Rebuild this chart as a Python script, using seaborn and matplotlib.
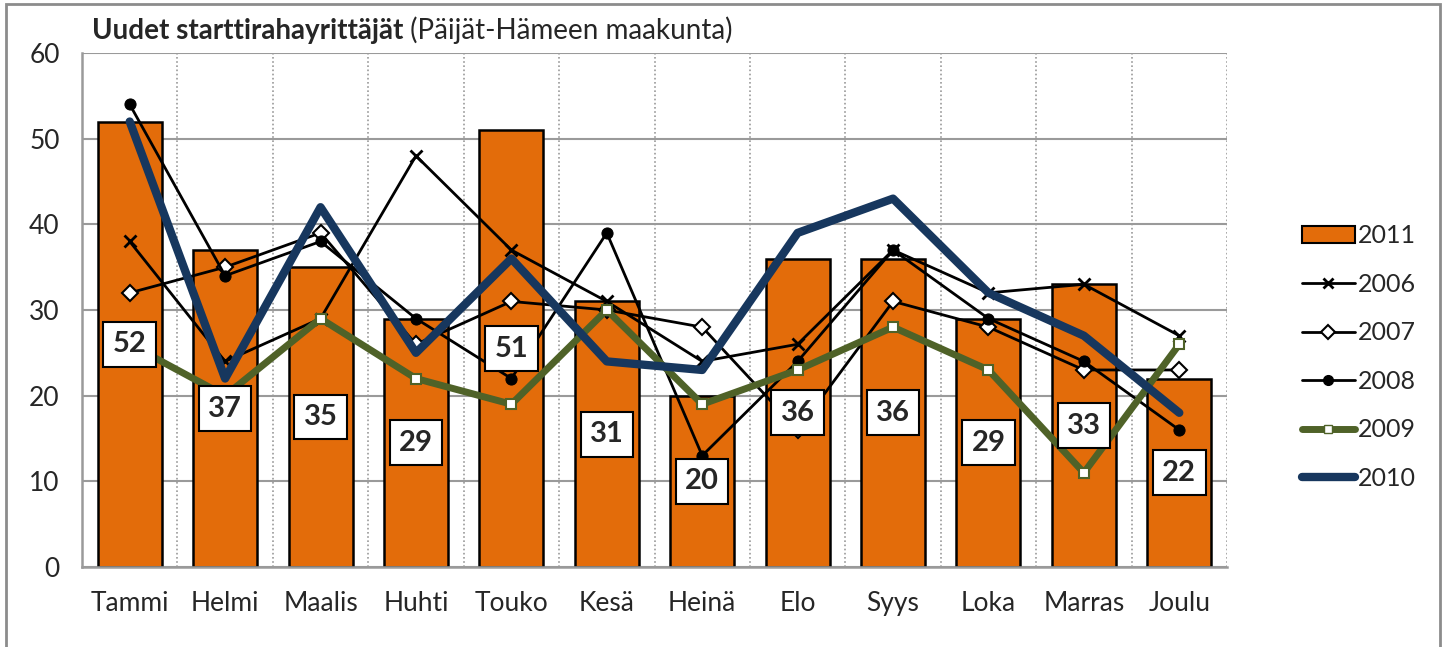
import numpy as np
import pandas as pd
import matplotlib
matplotlib.use("Agg")
import matplotlib.pyplot as plt
import seaborn as sns
from matplotlib.lines import Line2D
from matplotlib.patches import Patch, Rectangle

# Data
months = ["Tammi", "Helmi", "Maalis", "Huhti", "Touko", "Kesä",
          "Heinä", "Elo", "Syys", "Loka", "Marras", "Joulu"]
y2011 = [52, 37, 35, 29, 51, 31, 20, 36, 36, 29, 33, 22]
y2006 = [38, 24, 29, 48, 37, 31, 24, 26, 37, 32, 33, 27]
y2007 = [32, 35, 39, 26, 31, 30, 28, 16, 31, 28, 23, 23]
y2008 = [54, 34, 38, 29, 22, 39, 13, 24, 37, 29, 24, 16]
y2009 = [26, 20, 29, 22, 19, 30, 19, 23, 28, 23, 11, 26]
y2010 = [52, 22, 42, 25, 36, 24, 23, 39, 43, 32, 27, 18]

ORANGE = "#E36C0A"
GREEN = "#4F6228"
BLUE = "#17375E"
GRID = "#9A9A9A"

sns.set_style("white")
plt.rcParams["font.family"] = ["Lato", "DejaVu Sans"]

fig = plt.figure(figsize=(14.46, 6.47), dpi=100)
ax = fig.add_axes([82 / 1446, 1 - 567 / 647, 1145 / 1446, 514 / 647])

pos = np.arange(len(months))
df = pd.DataFrame({"pos": pos, "2011": y2011, "2006": y2006, "2007": y2007,
                   "2008": y2008, "2009": y2009, "2010": y2010})

# bars for 2011
sns.barplot(data=df, x="pos", y="2011", color=ORANGE, width=0.67,
            edgecolor="black", linewidth=1.8, saturation=1, ax=ax, zorder=2)

# line series
sns.lineplot(data=df, x="pos", y="2006", color="black", lw=2, marker="x",
             markersize=8, mew=2, mec="black", ax=ax, zorder=3)
sns.lineplot(data=df, x="pos", y="2007", color="black", lw=2, marker="D",
             markersize=8, mfc="white", mec="black", mew=1.5, ax=ax, zorder=3)
sns.lineplot(data=df, x="pos", y="2008", color="black", lw=2, marker="o",
             markersize=8, mfc="black", mec="black", ax=ax, zorder=3)
sns.lineplot(data=df, x="pos", y="2009", color=GREEN, lw=5, marker="s",
             markersize=7, mfc="white", mec=GREEN, mew=1.5, ax=ax, zorder=4)
sns.lineplot(data=df, x="pos", y="2010", color=BLUE, lw=6, ax=ax, zorder=5)

# value labels in the middle of the bars
for i, v in enumerate(y2011):
    ax.text(i, v / 2, str(v), ha="center", va="center", fontsize=21,
            fontweight="bold", zorder=10,
            bbox=dict(boxstyle="square,pad=0.32", fc="white", ec="black", lw=1.5))

ax.set_xlim(-0.5, len(months) - 0.5)
ax.set_ylim(0, 60)
ax.set_yticks(range(0, 61, 10))
ax.set_xticks(pos)
ax.set_xticklabels(months)
ax.set_xticks(np.arange(-0.5, len(months)), minor=True)
ax.set_xlabel("")
ax.set_ylabel("")

ax.grid(axis="y", color=GRID, lw=1.5, zorder=0)
ax.grid(axis="x", which="minor", color=GRID, lw=1.2, ls=(0, (1, 1.5)), zorder=0)
ax.grid(axis="x", which="major", visible=False)
ax.set_axisbelow(True)

for s in ["top", "right"]:
    ax.spines[s].set_visible(False)
for s in ["left", "bottom"]:
    ax.spines[s].set_color(GRID)
    ax.spines[s].set_linewidth(1.8)

ax.tick_params(axis="y", length=6, width=1.5, color=GRID, pad=10, labelsize=19)
ax.tick_params(axis="x", which="major", length=0, pad=17, labelsize=19)
ax.tick_params(axis="x", which="minor", length=6, width=1.5, color=GRID)

# legend
handles = [
    Patch(fc=ORANGE, ec="black", lw=1.5),
    Line2D([], [], color="black", lw=2, marker="x", markersize=7, mew=2),
    Line2D([], [], color="black", lw=2, marker="D", markersize=7, mfc="white", mew=1.5),
    Line2D([], [], color="black", lw=2, marker="o", markersize=7),
    Line2D([], [], color=GREEN, lw=5, marker="s", markersize=6, mfc="white", mec=GREEN),
    Line2D([], [], color=BLUE, lw=6),
]
labels = ["2011", "2006", "2007", "2008", "2009", "2010"]
fig.legend(handles, labels, loc="center left", bbox_to_anchor=(1292 / 1446, 1 - 357 / 647),
           frameon=False, fontsize=18, handlelength=2.1, handletextpad=0.15,
           labelspacing=1.02, borderaxespad=0)

# title: bold part followed by normal part
t1 = fig.text(92 / 1446, 1 - 39 / 647, "Uudet starttirahayrittäjät", fontsize=20,
              fontweight="bold", ha="left", va="baseline")
fig.canvas.draw()
bb = t1.get_window_extent(renderer=fig.canvas.get_renderer())
fig.text(bb.x1 / fig.bbox.width, 1 - 39 / 647, " (Päijät-Hämeen maakunta)",
         fontsize=20, ha="left", va="baseline")

# outer chart frame
fig.patches.append(Rectangle((6 / 1446, -0.05), 1434 / 1446, 1.05 - 4 / 647,
                             transform=fig.transFigure, fill=False,
                             ec="#8C8C8C", lw=2))

fig.savefig("out.png", dpi=100)
